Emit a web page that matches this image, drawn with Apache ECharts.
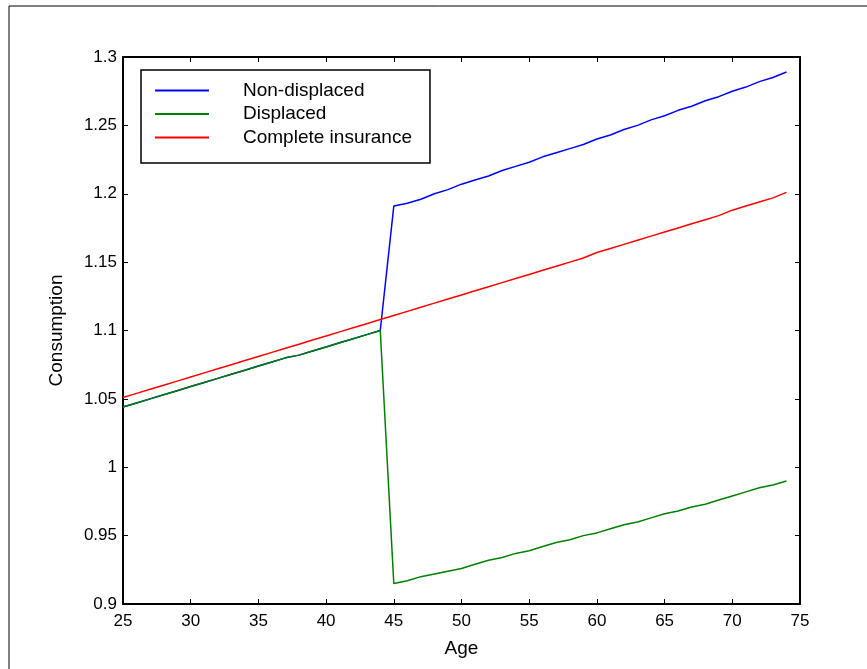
<!DOCTYPE html>
<html>
<head>
<meta charset="utf-8">
<script src="https://cdn.jsdelivr.net/npm/echarts@6/dist/echarts.min.js"></script>
<style>
  html, body { margin: 0; padding: 0; background: #fff; }
  #chart { width: 867px; height: 669px; }
</style>
</head>
<body>
<div id="chart"></div>
<script>
  // ages on the x axis
  var ages = [25, 26, 27, 28, 29, 30, 31, 32, 33, 34, 35, 36, 37, 38, 39, 40, 41, 42, 43, 44,
              45, 46, 47, 48, 49, 50, 51, 52, 53, 54, 55, 56, 57, 58, 59, 60, 61, 62, 63, 64,
              65, 66, 67, 68, 69, 70, 71, 72, 73, 74];

  // both groups share the path before displacement (age 25-44)
  var beforeDisplacement = [1.044, 1.047, 1.050, 1.053, 1.056, 1.059, 1.062, 1.065, 1.068, 1.071,
                            1.074, 1.077, 1.080, 1.082, 1.085, 1.088, 1.091, 1.094, 1.097, 1.100];

  // age 45-74
  var nonDisplacedAfter = [1.191, 1.193, 1.196, 1.200, 1.203, 1.207, 1.210, 1.213, 1.217, 1.220,
                           1.223, 1.227, 1.230, 1.233, 1.236, 1.240, 1.243, 1.247, 1.250, 1.254,
                           1.257, 1.261, 1.264, 1.268, 1.271, 1.275, 1.278, 1.282, 1.285, 1.289];
  var displacedAfter = [0.915, 0.917, 0.920, 0.922, 0.924, 0.926, 0.929, 0.932, 0.934, 0.937,
                        0.939, 0.942, 0.945, 0.947, 0.950, 0.952, 0.955, 0.958, 0.960, 0.963,
                        0.966, 0.968, 0.971, 0.973, 0.976, 0.979, 0.982, 0.985, 0.987, 0.990];

  // age 25-74
  var completeInsurance = [1.051, 1.054, 1.057, 1.060, 1.063, 1.066, 1.069, 1.072, 1.075, 1.078,
                           1.081, 1.084, 1.087, 1.090, 1.093, 1.096, 1.099, 1.102, 1.105, 1.108,
                           1.111, 1.114, 1.117, 1.120, 1.123, 1.126, 1.129, 1.132, 1.135, 1.138,
                           1.141, 1.144, 1.147, 1.150, 1.153, 1.157, 1.160, 1.163, 1.166, 1.169,
                           1.172, 1.175, 1.178, 1.181, 1.184, 1.188, 1.191, 1.194, 1.197, 1.201];

  var nonDisplaced = beforeDisplacement.concat(nonDisplacedAfter);
  var displaced = beforeDisplacement.concat(displacedAfter);

  function pairs(values) {
    return values.map(function (v, i) { return [ages[i], v]; });
  }

  var font = 'Liberation Sans, Arial, sans-serif';
  var myChart = echarts.init(document.getElementById('chart'));

  var tickStyle = { show: true, inside: true, length: 5, lineStyle: { color: '#000', width: 1 } };
  var lineAxis = { show: true, onZero: false, lineStyle: { color: '#000', width: 2 } };

  var option = {
    backgroundColor: '#fff',
    animation: false,
    textStyle: { fontFamily: font },
    graphic: [{
      type: 'rect',
      shape: { x: 9, y: 6, width: 900, height: 700 },
      style: { fill: 'none', stroke: '#000', lineWidth: 1 }
    }],
    grid: { left: 123, top: 57, right: 67, bottom: 65 },
    legend: {
      orient: 'vertical',
      left: 141,
      top: 70,
      padding: [11, 18, 16, 14],
      itemGap: 4.5,
      itemWidth: 54,
      itemHeight: 2,
      icon: 'rect',
      backgroundColor: '#fff',
      borderColor: '#000',
      borderWidth: 1.5,
      borderRadius: 0,
      textStyle: { fontFamily: font, fontSize: 19, color: '#000', padding: [0, 0, 0, 29] },
      data: ['Non-displaced', 'Displaced', 'Complete insurance']
    },
    xAxis: [{
      type: 'value',
      min: 25, max: 75, interval: 5,
      name: 'Age', nameLocation: 'middle', nameGap: 35,
      nameTextStyle: { fontFamily: font, fontSize: 19, color: '#000' },
      axisLine: lineAxis,
      axisTick: tickStyle,
      axisLabel: { fontFamily: font, fontSize: 17, color: '#000', margin: 9 },
      splitLine: { show: false }
    }, {
      type: 'value', position: 'top',
      min: 25, max: 75, interval: 5,
      axisLine: lineAxis,
      axisTick: tickStyle,
      axisLabel: { show: false },
      splitLine: { show: false }
    }],
    yAxis: [{
      type: 'value',
      min: 0.9, max: 1.3, interval: 0.05,
      name: 'Consumption', nameLocation: 'middle', nameGap: 57, nameRotate: 90,
      nameTextStyle: { fontFamily: font, fontSize: 19, color: '#000' },
      axisLine: lineAxis,
      axisTick: tickStyle,
      axisLabel: { fontFamily: font, fontSize: 17, color: '#000', margin: 6 },
      splitLine: { show: false }
    }, {
      type: 'value', position: 'right',
      min: 0.9, max: 1.3, interval: 0.05,
      axisLine: lineAxis,
      axisTick: tickStyle,
      axisLabel: { show: false },
      splitLine: { show: false }
    }],
    series: [
      {
        name: 'Non-displaced', type: 'line', data: pairs(nonDisplaced),
        showSymbol: false, symbol: 'none',
        lineStyle: { color: '#0000ff', width: 1.5 }, itemStyle: { color: '#0000ff' }
      },
      {
        name: 'Displaced', type: 'line', data: pairs(displaced),
        showSymbol: false, symbol: 'none',
        lineStyle: { color: '#008000', width: 1.5 }, itemStyle: { color: '#008000' }
      },
      {
        name: 'Complete insurance', type: 'line', data: pairs(completeInsurance),
        showSymbol: false, symbol: 'none',
        lineStyle: { color: '#ff0000', width: 1.5 }, itemStyle: { color: '#ff0000' }
      }
    ]
  };

  myChart.setOption(option);
</script>
</body>
</html>
